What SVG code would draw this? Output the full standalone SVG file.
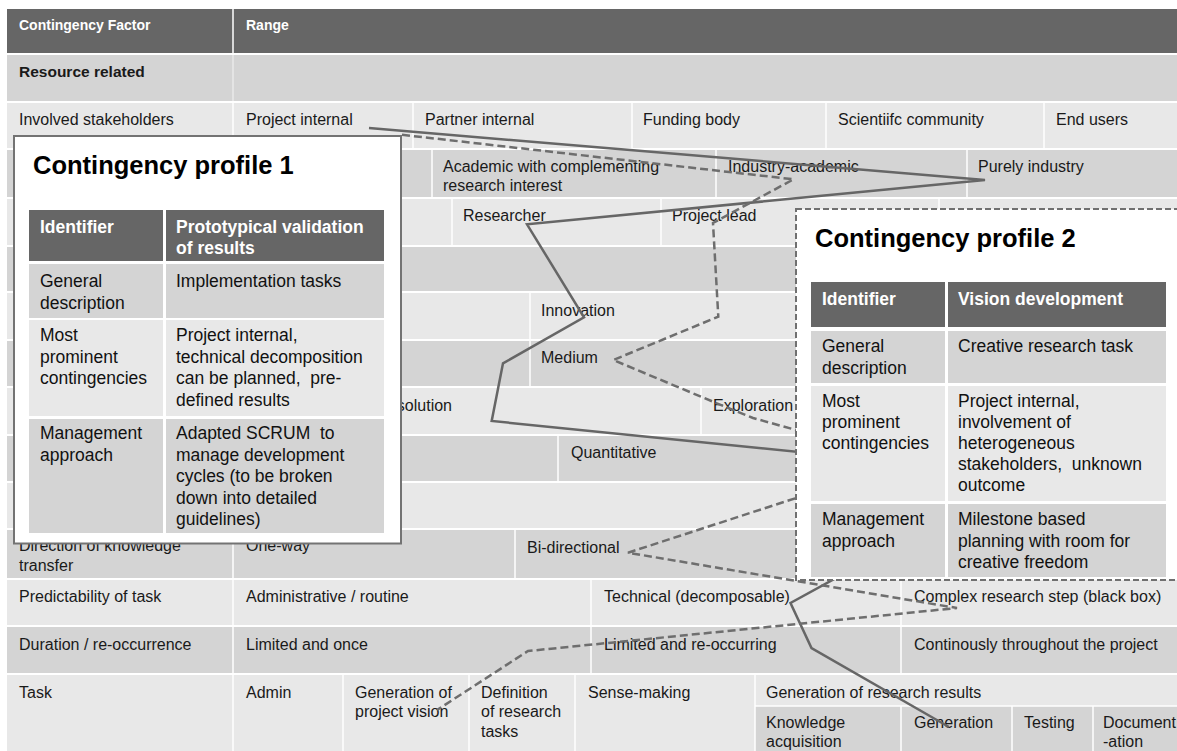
<svg xmlns="http://www.w3.org/2000/svg" width="1177" height="751" viewBox="0 0 1177 751">
<style>
text{font-family:"Liberation Sans",Arial,sans-serif;font-size:16px;fill:#1a1a1a}
.h{font-weight:bold;fill:#fff;font-size:14px}
.b{font-weight:bold;font-size:15.5px}
.lt{fill:#e8e8e8}
.dk{fill:#d4d4d4}
.hd{fill:#666}
.sep{stroke:#fff;stroke-width:1.5}
.bx text{font-size:17.5px;fill:#111}
.bx .ti{font-size:25.5px;font-weight:bold;fill:#000}
.bx .th{font-weight:bold;fill:#fff}
.c1{fill:none;stroke:#666;stroke-width:2.5;stroke-linejoin:miter}
.c2{fill:none;stroke:#6e6e6e;stroke-width:2.5;stroke-dasharray:8 4}
</style>
<rect width="1177" height="751" fill="#fff"/>
<g id="table">
<g id="row-header"><rect class="hd" x="7" y="9" width="1170" height="44"/><line class="sep" x1="233" y1="9" x2="233" y2="53"/><text class="h" x="19" y="30">Contingency Factor</text><text class="h" x="246" y="30">Range</text></g>
<g id="row-resource"><rect class="dk" x="7" y="55" width="1170" height="46"/><line class="sep" x1="233" y1="55" x2="233" y2="101" opacity="0.5"/><text class="b" x="19" y="77">Resource related</text></g>
<g id="row-stakeholders"><rect class="lt" x="7" y="103" width="1170" height="45"/>
<line class="sep" x1="233" y1="103" x2="233" y2="148"/><line class="sep" x1="413" y1="103" x2="413" y2="148"/><line class="sep" x1="632" y1="103" x2="632" y2="148"/><line class="sep" x1="826" y1="103" x2="826" y2="148"/><line class="sep" x1="1044" y1="103" x2="1044" y2="148"/>
<text x="19" y="124.5">Involved stakeholders</text><text x="246" y="124.5">Project internal</text><text x="425" y="124.5">Partner internal</text><text x="643" y="124.5">Funding body</text><text x="838" y="124.5">Scientiifc community</text><text x="1056" y="124.5">End users</text></g>
<g id="row-4"><rect class="dk" x="7" y="150" width="1170" height="47"/>
<line class="sep" x1="432" y1="150" x2="432" y2="197"/><line class="sep" x1="716" y1="150" x2="716" y2="197"/><line class="sep" x1="967" y1="150" x2="967" y2="197"/>
<text x="443" y="171.5">Academic with complementing</text><text x="443" y="191">research interest</text><text x="728" y="171.5">Industry-academic</text><text x="978" y="171.5">Purely industry</text></g>
<g id="row-5"><rect class="lt" x="7" y="199" width="1170" height="46"/>
<line class="sep" x1="452" y1="199" x2="452" y2="245"/><line class="sep" x1="661" y1="199" x2="661" y2="245"/><line class="sep" x1="939" y1="199" x2="939" y2="245"/>
<text x="463" y="221">Researcher</text><text x="672" y="221">Project lead</text></g>
<g id="row-6"><rect class="dk" x="7" y="247" width="1170" height="44"/></g>
<g id="row-7"><rect class="lt" x="7" y="293" width="1170" height="46"/><line class="sep" x1="530" y1="293" x2="530" y2="339"/><text x="541" y="315.5">Innovation</text></g>
<g id="row-8"><rect class="dk" x="7" y="341" width="1170" height="45"/><line class="sep" x1="530" y1="341" x2="530" y2="386"/><text x="541" y="363">Medium</text></g>
<g id="row-9"><rect class="lt" x="7" y="388" width="1170" height="46"/><line class="sep" x1="701" y1="388" x2="701" y2="434"/><text x="452" y="410.5" text-anchor="end">solution</text><text x="713" y="410.5">Exploration</text></g>
<g id="row-10"><rect class="dk" x="7" y="436" width="1170" height="45"/><line class="sep" x1="558" y1="436" x2="558" y2="481"/><text x="571" y="458">Quantitative</text></g>
<g id="row-11"><rect class="lt" x="7" y="483" width="1170" height="45"/></g>
<g id="row-knowledge"><rect class="dk" x="7" y="530" width="1170" height="48"/>
<line class="sep" x1="233" y1="530" x2="233" y2="578"/><line class="sep" x1="515" y1="530" x2="515" y2="578"/>
<text x="19" y="551">Direction of knowledge</text><text x="19" y="570.5">transfer</text><text x="246" y="551">One-way</text><text x="527" y="552.5">Bi-directional</text></g>
<g id="row-predictability"><rect class="lt" x="7" y="580" width="1170" height="45"/>
<line class="sep" x1="233" y1="580" x2="233" y2="625"/><line class="sep" x1="591" y1="580" x2="591" y2="625"/><line class="sep" x1="901" y1="580" x2="901" y2="625"/>
<text x="19" y="602">Predictability of task</text><text x="246" y="602">Administrative / routine</text><text x="604" y="602">Technical (decomposable)</text><text x="914" y="602">Complex research step (black box)</text></g>
<g id="row-duration"><rect class="dk" x="7" y="627" width="1170" height="46"/>
<line class="sep" x1="233" y1="627" x2="233" y2="673"/><line class="sep" x1="591" y1="627" x2="591" y2="673"/><line class="sep" x1="901" y1="627" x2="901" y2="673"/>
<text x="19" y="649.5">Duration / re-occurrence</text><text x="246" y="649.5">Limited and once</text><text x="604" y="649.5">Limited and re-occurring</text><text x="914" y="649.5">Continously throughout the project</text></g>
<g id="row-task"><rect class="lt" x="7" y="675" width="1170" height="76"/><rect class="dk" x="755" y="706" width="422" height="45"/>
<line class="sep" x1="233" y1="675" x2="233" y2="751"/><line class="sep" x1="343" y1="675" x2="343" y2="751"/><line class="sep" x1="469" y1="675" x2="469" y2="751"/><line class="sep" x1="575" y1="675" x2="575" y2="751"/><line class="sep" x1="755" y1="675" x2="755" y2="751"/>
<line class="sep" x1="755" y1="706" x2="1177" y2="706"/><line class="sep" x1="901" y1="706" x2="901" y2="751"/><line class="sep" x1="1012" y1="706" x2="1012" y2="751"/><line class="sep" x1="1093" y1="706" x2="1093" y2="751"/>
<text x="19" y="697.5">Task</text><text x="246" y="697.5">Admin</text><text x="355" y="697.5">Generation of</text><text x="355" y="717">project vision</text><text x="481" y="697.5">Definition</text><text x="481" y="717">of research</text><text x="481" y="736.5">tasks</text><text x="588" y="697.5">Sense-making</text><text x="766" y="697.5">Generation of research results</text>
<text x="766" y="727.5">Knowledge</text><text x="766" y="747">acquisition</text><text x="914" y="727.5">Generation</text><text x="1024" y="727.5">Testing</text><text x="1103" y="727.5">Document</text><text x="1103" y="747">-ation</text></g>
</g>
<g id="connectors">
<polyline id="profile1-path" class="c1" points="369,128 985,180 527,224.3 584,317.3 503,363.3 491.7,421 822,454.3 845,573 790.5,603 811.5,648 949,727"/>
<polyline id="profile2-path" class="c2" points="402,134.8 793.5,179.3 713,223 718.3,316.7 613.3,360 713,401.7 753,418 796,430 830,440 830,487 628,552.7 957,608 528,651 437,710"/>
</g>
<g id="profile1" class="bx">
<rect x="14" y="136" width="387" height="407.5" fill="#fff" stroke="#737373" stroke-width="2"/>
<text class="ti" x="33" y="174">Contingency profile 1</text>
<rect class="hd" x="29" y="210" width="134" height="51"/><rect class="hd" x="166" y="210" width="218" height="51"/>
<rect class="dk" x="29" y="264" width="134" height="54"/><rect class="dk" x="166" y="264" width="218" height="54"/>
<rect class="lt" x="29" y="320" width="134" height="96"/><rect class="lt" x="166" y="320" width="218" height="96"/>
<rect class="dk" x="29" y="419" width="134" height="114"/><rect class="dk" x="166" y="419" width="218" height="114"/>
<text class="th" x="40" y="233">Identifier</text><text class="th" x="176" y="233">Prototypical validation</text><text class="th" x="176" y="254">of results</text>
<text x="40" y="287">General</text><text x="40" y="309">description</text><text x="176" y="287">Implementation tasks</text>
<text x="40" y="341">Most</text><text x="40" y="362.5">prominent</text><text x="40" y="384">contingencies</text>
<text x="176" y="341">Project internal,</text><text x="176" y="362.5">technical decomposition</text><text x="176" y="384">can be planned,&#160; pre-</text><text x="176" y="405.5">defined results</text>
<text x="40" y="439">Management</text><text x="40" y="460.5">approach</text>
<text x="176" y="439">Adapted SCRUM&#160; to</text><text x="176" y="460.5">manage development</text><text x="176" y="482">cycles (to be broken</text><text x="176" y="503.5">down into detailed</text><text x="176" y="525">guidelines)</text>
</g>
<g id="profile2" class="bx">
<rect x="796" y="209" width="400" height="371" fill="#fff" stroke="#707070" stroke-width="2" stroke-dasharray="6 3"/>
<text class="ti" x="815" y="247">Contingency profile 2</text>
<rect class="hd" x="811" y="282" width="134" height="45"/><rect class="hd" x="948" y="282" width="218" height="45"/>
<rect class="dk" x="811" y="331" width="134" height="52"/><rect class="dk" x="948" y="331" width="218" height="52"/>
<rect class="lt" x="811" y="386" width="134" height="115"/><rect class="lt" x="948" y="386" width="218" height="115"/>
<rect class="dk" x="811" y="504" width="134" height="73"/><rect class="dk" x="948" y="504" width="218" height="73"/>
<text class="th" x="822" y="305">Identifier</text><text class="th" x="958" y="305">Vision development</text>
<text x="822" y="352">General</text><text x="822" y="374">description</text><text x="958" y="352">Creative research task</text>
<text x="822" y="407">Most</text><text x="822" y="428">prominent</text><text x="822" y="449">contingencies</text>
<text x="958" y="407">Project internal,</text><text x="958" y="428">involvement of</text><text x="958" y="449">heterogeneous</text><text x="958" y="470">stakeholders,&#160; unknown</text><text x="958" y="491">outcome</text>
<text x="822" y="525">Management</text><text x="822" y="547">approach</text>
<text x="958" y="525">Milestone based</text><text x="958" y="547">planning with room for</text><text x="958" y="568">creative freedom</text>
</g>
</svg>
